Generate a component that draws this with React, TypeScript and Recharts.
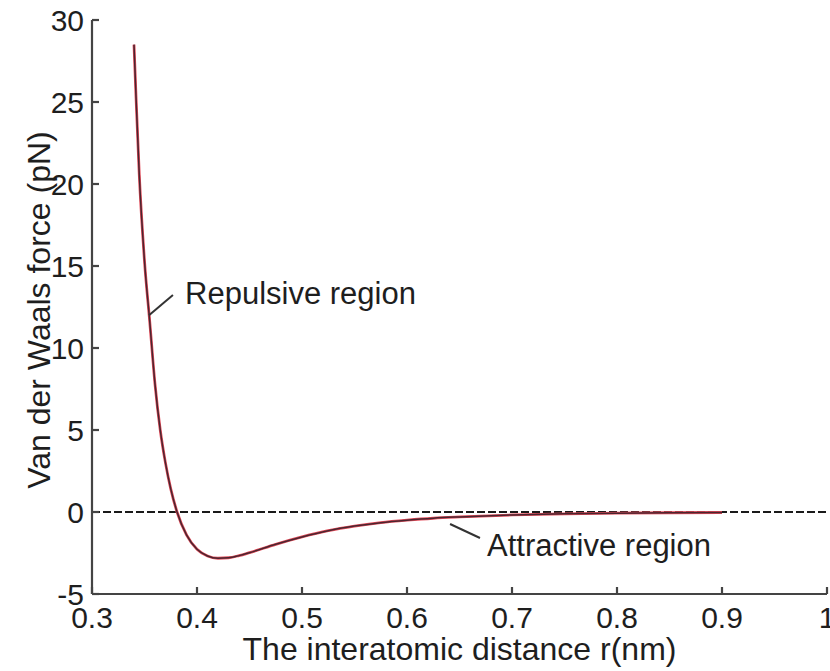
import React from 'react';
import { LineChart, Line, XAxis, YAxis, ReferenceLine, ReferenceDot } from 'recharts';

const distances = [0.34, 0.342, 0.345, 0.35, 0.355, 0.36, 0.365, 0.37, 0.375, 0.381, 0.39, 0.4, 0.41, 0.42, 0.43, 0.44, 0.45, 0.475, 0.5, 0.525, 0.55, 0.575, 0.6, 0.625, 0.65, 0.7, 0.75, 0.8, 0.85, 0.9];
const forces = [28.5, 25.2, 20.6, 15.3, 11.6, 7.8, 5.0, 2.98, 1.41, 0, -1.4, -2.27, -2.68, -2.82, -2.79, -2.66, -2.48, -1.97, -1.52, -1.14, -0.86, -0.65, -0.5, -0.38, -0.3, -0.18, -0.11, -0.07, -0.046, -0.03];
const xTicks = [0.3, 0.4, 0.5, 0.6, 0.7, 0.8, 0.9, 1];
const yTicks = [-5, 0, 5, 10, 15, 20, 25, 30];
const xLabel = 'The interatomic distance r(nm)';
const yLabel = 'Van der Waals force (pN)';
const repulsiveText = 'Repulsive region';
const attractiveText = 'Attractive region';

const data = distances.map((r, i) => ({ r, f: forces[i] }));

const FONT = '"Liberation Sans", Arial, Helvetica, sans-serif';
const TEXT = '#1e1e1e';
const AXIS = '#444';

const fmtX = (v: number) => (v === 1 ? '1' : v.toFixed(1));

const annot = (text: string) => (props: any) => {
  const vb = props.viewBox || {};
  return (
    <text x={vb.x} y={vb.y} fill={TEXT} fontSize={31} fontFamily={FONT}>
      {text}
    </text>
  );
};

export default function App() {
  return (
    <div style={{ position: 'absolute', left: 0, top: 0, width: 830, height: 671, background: '#fff' }}>
      <LineChart width={830} height={671} data={data} margin={{ top: 20, right: 3, bottom: 0, left: 0 }}>
        <XAxis
          xAxisId="b"
          dataKey="r"
          type="number"
          domain={[0.3, 1]}
          ticks={xTicks}
          interval={0}
          tickFormatter={fmtX}
          height={77}
          tickSize={-7}
          tickMargin={20}
          stroke={AXIS}
          strokeWidth={2.2}
          tick={{ fill: TEXT, fontSize: 30, fontFamily: FONT }}
          label={(p: any) => {
            const vb = p.viewBox || {};
            return (
              <text x={vb.x + vb.width / 2} y={vb.y + 66} textAnchor="middle" fill={TEXT} fontSize={32} fontFamily={FONT}>
                {xLabel}
              </text>
            );
          }}
        />
        <XAxis
          xAxisId="t"
          orientation="top"
          dataKey="r"
          type="number"
          domain={[0.3, 1]}
          ticks={xTicks}
          interval={0}
          height={0}
          tickSize={-7}
          tick={false}
          stroke={AXIS}
          strokeWidth={2.2}
        />
        <YAxis
          yAxisId="l"
          type="number"
          domain={[-5, 30]}
          ticks={yTicks}
          interval={0}
          width={92}
          tickSize={-7}
          tickMargin={15}
          stroke={AXIS}
          strokeWidth={2.2}
          tick={{ fill: TEXT, fontSize: 30, fontFamily: FONT }}
          label={(p: any) => {
            const vb = p.viewBox || {};
            const x = vb.x + 50;
            const y = vb.y + vb.height / 2 + 3;
            return (
              <text x={x} y={y} transform={`rotate(-90, ${x}, ${y})`} textAnchor="middle" fill={TEXT} fontSize={32} fontFamily={FONT}>
                {yLabel}
              </text>
            );
          }}
        />
        <YAxis
          yAxisId="r"
          orientation="right"
          type="number"
          domain={[-5, 30]}
          ticks={yTicks}
          interval={0}
          width={0}
          tickSize={-7}
          tick={false}
          stroke={AXIS}
          strokeWidth={2.2}
        />
        <ReferenceLine xAxisId="b" yAxisId="l" y={0} stroke="#1a1a1a" strokeWidth={2.2} strokeDasharray="8 3" />
        <Line xAxisId="b" yAxisId="l" type="monotone" dataKey="f" stroke="#e24a58" strokeWidth={2.8} dot={false} isAnimationActive={false} />
        <Line xAxisId="b" yAxisId="l" type="monotone" dataKey="f" stroke="#4a2630" strokeWidth={1.5} dot={false} isAnimationActive={false} />
        <ReferenceLine
          xAxisId="b"
          yAxisId="l"
          segment={[{ x: 0.3543, y: 12.0 }, { x: 0.3771, y: 13.23 }]}
          stroke="#333"
          strokeWidth={2}
        />
        <ReferenceLine
          xAxisId="b"
          yAxisId="l"
          segment={[{ x: 0.641, y: -0.73 }, { x: 0.6695, y: -1.585 }]}
          stroke="#333"
          strokeWidth={2}
        />
        <ReferenceDot xAxisId="b" yAxisId="l" x={0.3886} y={12.68} r={0} fill="none" stroke="none" label={annot(repulsiveText)} />
        <ReferenceDot xAxisId="b" yAxisId="l" x={0.6762} y={-2.68} r={0} fill="none" stroke="none" label={annot(attractiveText)} />
      </LineChart>
    </div>
  );
}
